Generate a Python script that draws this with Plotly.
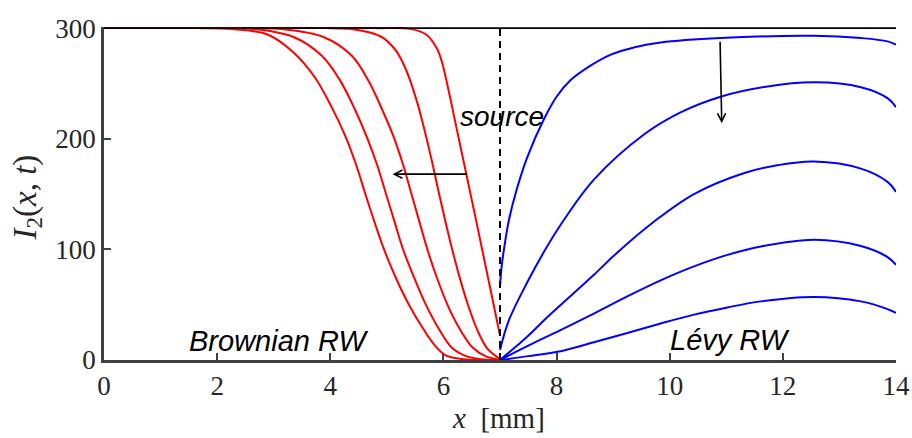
import plotly.graph_objects as go

# ---------------- data ----------------
# Brownian RW profiles (red), left of the source at x = 7 mm
red1_x = [0, 1.6, 2.3, 2.9, 3.35, 3.72, 4.02, 4.27, 4.46, 4.62, 4.78, 4.95, 5.17, 5.40, 5.62, 5.85, 6.05, 6.4, 7.0]
red1_y = [300, 300, 299, 294, 278, 256, 229, 202, 176, 150, 125, 100, 73, 49, 30, 13, 4, 0.5, 0]
red2_x = [0, 2.0, 2.7, 3.35, 3.85, 4.17, 4.44, 4.65, 4.83, 4.98, 5.13, 5.28, 5.47, 5.69, 5.92, 6.15, 6.4, 6.7, 7.0]
red2_y = [300, 300, 299, 292, 275, 253, 226, 201, 176, 151, 126, 101, 76, 50, 28, 11, 3.5, 0.5, 0]
red3_x = [0, 2.5, 3.17, 3.88, 4.38, 4.68, 4.92, 5.11, 5.29, 5.43, 5.57, 5.71, 5.88, 6.08, 6.29, 6.52, 6.76, 7.0]
red3_y = [300, 300, 299, 292, 275, 252, 226, 203, 176, 151, 126, 101, 75, 49, 28, 11, 3, 0.3]
red4_x = [0, 3.9, 4.4, 4.70, 4.94, 5.17, 5.35, 5.53, 5.67, 5.80, 5.92, 6.04, 6.16, 6.29, 6.44, 6.60, 6.78, 7.0]
red4_y = [300, 300, 299, 296, 291, 279, 261, 234, 207, 179, 151, 124, 99, 74, 49, 27, 10, 1]
red5_x = [0, 4.8, 5.41, 5.70, 5.88, 5.97, 6.09, 6.21, 6.33, 6.45, 6.57, 6.68, 6.79, 6.90, 7.0]
red5_y = [300, 300, 299.3, 294, 282, 270, 244, 215, 186, 157, 128, 101, 74, 47, 22]

# Levy RW profiles (blue), right of the source
blue1_x = [7.0, 7.03, 7.07, 7.16, 7.3, 7.48, 7.78, 8.0, 8.25, 8.6, 8.96, 9.4, 9.84, 10.9, 12.55, 13.38, 13.85, 14.0]
blue1_y = [66, 85, 100, 127, 155, 183, 218, 238, 253, 266, 276, 283, 287, 291, 293, 291, 288, 285]
blue2_x = [7.0, 7.15, 7.48, 7.78, 8.07, 8.66, 9.55, 10.2, 10.9, 11.7, 12.55, 13.38, 13.85, 14.0]
blue2_y = [9, 35, 70, 98, 122, 163, 204, 224, 238, 247, 251, 246.6, 236.7, 228.5]
blue3_x = [7.0, 7.48, 7.78, 8.37, 8.66, 9.07, 9.72, 10.43, 11.32, 11.9, 12.55, 13.38, 13.85, 14.0]
blue3_y = [0, 21, 36, 63.5, 77, 97, 125, 150, 169, 176, 179.4, 173, 161, 152]
blue4_x = [7.0, 7.5, 8.07, 8.66, 9.25, 9.84, 10.43, 11.02, 11.61, 12.55, 13.38, 13.85, 14.0]
blue4_y = [0, 13, 27, 42, 57.5, 72, 84.6, 95, 102.6, 108.7, 103, 93, 86]
blue5_x = [7.0, 7.5, 8.07, 8.66, 9.25, 9.84, 10.43, 11.02, 11.61, 12.55, 13.38, 13.85, 14.0]
blue5_y = [0, 3.5, 8, 16, 24.4, 33, 41, 47.5, 53, 57, 53, 46, 42.5]

red_curves = [(red1_x, red1_y), (red2_x, red2_y), (red3_x, red3_y), (red4_x, red4_y), (red5_x, red5_y)]
blue_curves = [(blue1_x, blue1_y), (blue2_x, blue2_y), (blue3_x, blue3_y), (blue4_x, blue4_y), (blue5_x, blue5_y)]

x_ticks = [0, 2, 4, 6, 8, 10, 12, 14]
y_ticks = [0, 100, 200, 300]
source_x = 7
top_level = 300
x_range = [0, 14]

# ---------------- figure ----------------
fig = go.Figure()

for xs, ys in red_curves:
    fig.add_trace(go.Scatter(x=xs, y=ys, mode="lines",
                             line=dict(color="#ff0000", width=2, shape="spline", smoothing=1.0),
                             hoverinfo="skip", showlegend=False))
for xs, ys in blue_curves:
    fig.add_trace(go.Scatter(x=xs, y=ys, mode="lines",
                             line=dict(color="#0000ff", width=2, shape="spline", smoothing=1.0),
                             hoverinfo="skip", showlegend=False))

# top reference level
fig.add_trace(go.Scatter(x=x_range, y=[top_level, top_level], mode="lines",
                         line=dict(color="black", width=1.6), hoverinfo="skip", showlegend=False))
# source position
fig.add_trace(go.Scatter(x=[source_x, source_x], y=[0, top_level], mode="lines",
                         line=dict(color="black", width=2, dash="7px,5px"),
                         hoverinfo="skip", showlegend=False))

serif = "Liberation Serif, Times New Roman, serif"
sans = "Liberation Sans, Arial, sans-serif"
axis_col = "#404040"

fig.update_layout(
    width=912, height=438,
    margin=dict(l=104, r=16, t=27, b=78),
    paper_bgcolor="white", plot_bgcolor="white",
    xaxis=dict(range=x_range, tickvals=x_ticks, ticks="inside", ticklen=7, tickwidth=2,
               tickcolor=axis_col, showline=True, linecolor=axis_col, linewidth=2.5,
               showgrid=False, zeroline=False, layer="below traces", automargin=False,
               tickfont=dict(family=serif, size=27, color="#262626")),
    yaxis=dict(range=[0, 301], tickvals=y_ticks, ticks="inside", ticklen=7, tickwidth=2,
               tickcolor=axis_col, showline=True, linecolor=axis_col, linewidth=2.5,
               showgrid=False, zeroline=False, layer="below traces", automargin=False,
               tickfont=dict(family=serif, size=27, color="#262626")),
)

# arrows
fig.add_annotation(x=5.1, y=168, ax=6.44, ay=168, xref="x", yref="y", axref="x", ayref="y",
                   showarrow=True, arrowhead=5, arrowsize=1, arrowwidth=1.6, arrowcolor="black", text="")
fig.add_annotation(x=10.92, y=214, ax=10.89, ay=289, xref="x", yref="y", axref="x", ayref="y",
                   showarrow=True, arrowhead=5, arrowsize=1, arrowwidth=1.6, arrowcolor="black", text="")

# labels
fig.add_annotation(x=7.03, y=220, text="source", showarrow=False, xanchor="center", yanchor="middle",
                   font=dict(family=sans, size=28, color="black", style="italic"))
fig.add_annotation(x=3.09, y=17.5, text="Brownian RW", showarrow=False, xanchor="center", yanchor="middle",
                   font=dict(family=sans, size=29, color="black", style="italic"))
fig.add_annotation(x=11.06, y=18.2, text="Lévy RW", showarrow=False, xanchor="center", yanchor="middle",
                   font=dict(family=sans, size=29, color="black", style="italic"))

# axis titles
fig.add_annotation(x=-0.0972, y=0.488, xref="paper", yref="paper", showarrow=False,
                   text="<i>I</i><sub>2</sub>(<i>x</i>, <i>t</i>)", textangle=-90,
                   xanchor="center", yanchor="middle",
                   font=dict(family=serif, size=33, color="#262626"))
fig.add_annotation(x=0.4975, y=-0.173, xref="paper", yref="paper", showarrow=False,
                   text="<i>x</i>\u2002[mm]", xanchor="center", yanchor="middle",
                   font=dict(family=serif, size=29, color="#262626"))

fig.write_html("out.html")
